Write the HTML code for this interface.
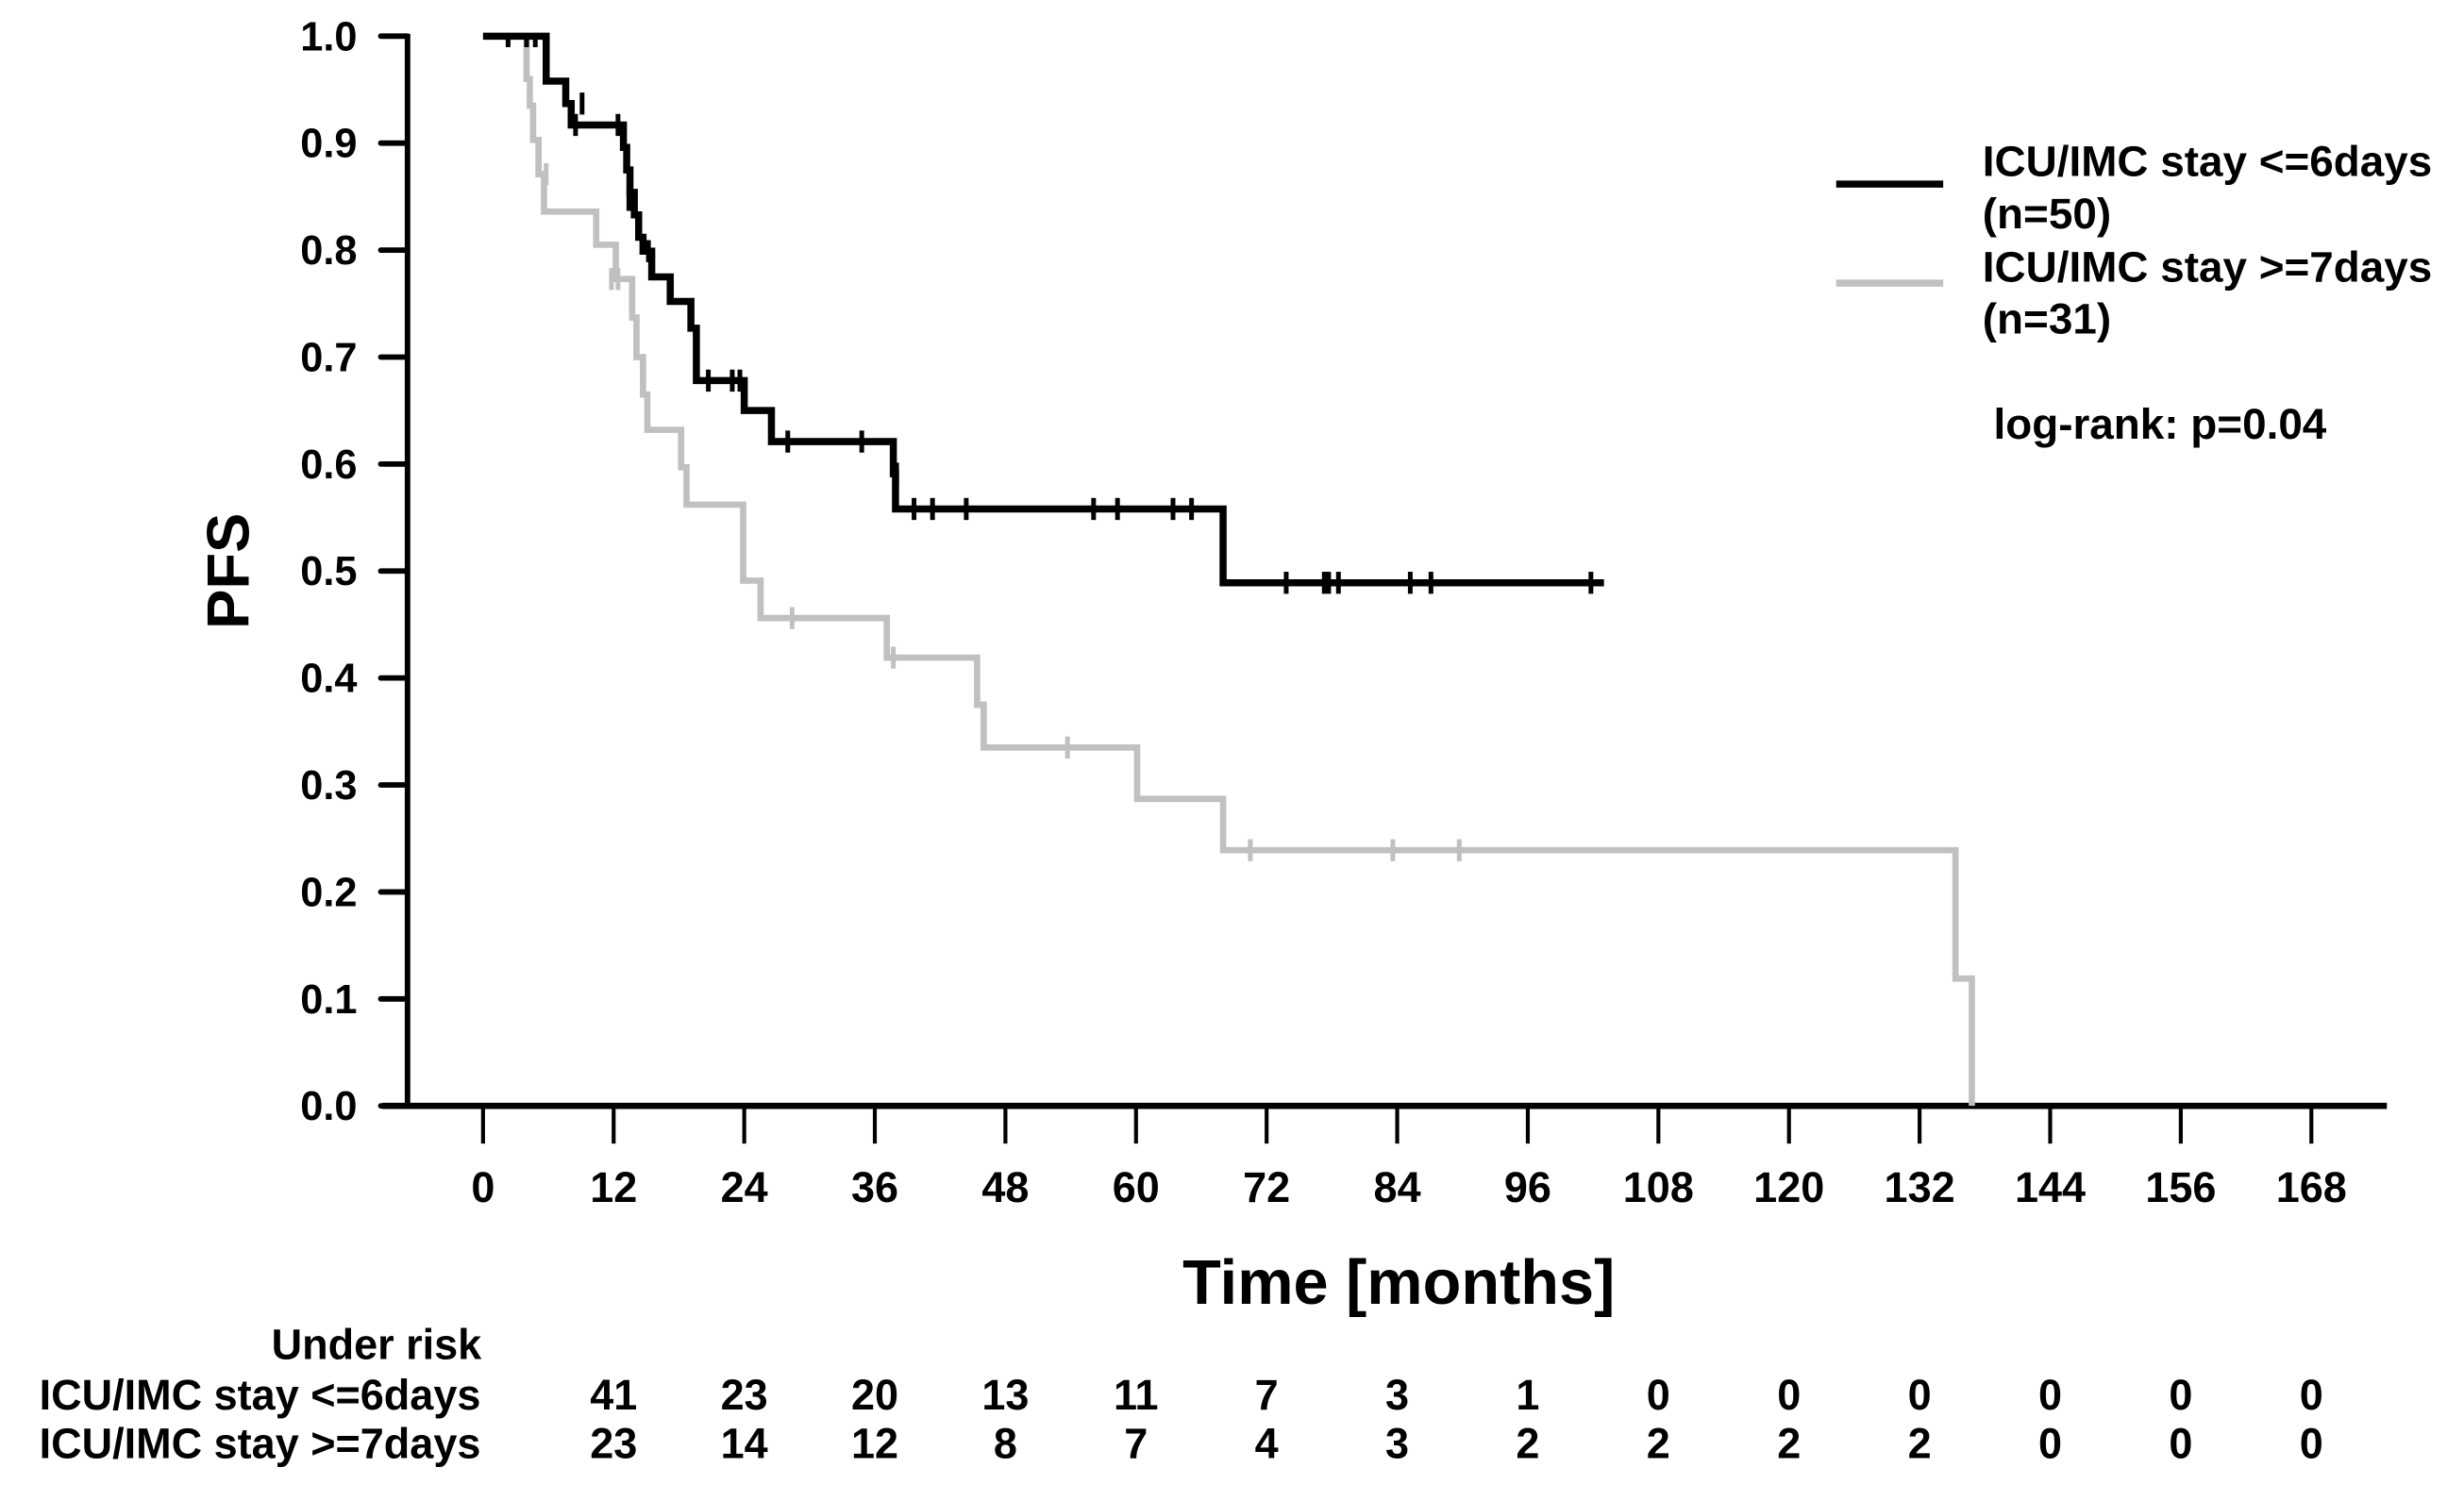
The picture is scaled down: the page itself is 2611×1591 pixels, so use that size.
<!DOCTYPE html>
<html><head><meta charset="utf-8"><style>
html,body{margin:0;padding:0;background:#fff;}
svg{display:block;}
text{font-family:"Liberation Sans",Arial,sans-serif;font-weight:bold;fill:#000;}
</style></head><body>
<svg id="chart" width="2611" height="1591" viewBox="0 0 1566 954.2" preserveAspectRatio="none" xmlns="http://www.w3.org/2000/svg">
<g id="axes"></g>
<g id="curves"></g>
<g>
<line x1="1167" y1="117" x2="1235" y2="117" stroke="#000" stroke-width="4.5"/>
<text x="1260" y="112" font-size="27.5">ICU/IMC stay &lt;=6days</text>
<text x="1260" y="145" font-size="27.5">(n=50)</text>
<line x1="1167" y1="180" x2="1235" y2="180" stroke="#c0c0c0" stroke-width="4.5"/>
<text x="1260" y="179" font-size="27.5">ICU/IMC stay &gt;=7days</text>
<text x="1260" y="212" font-size="27.5">(n=31)</text>
<text x="1267" y="279" font-size="27.5">log-rank: p=0.04</text>
</g>
<text transform="translate(158,363) rotate(-90)" text-anchor="middle" font-size="38">PFS</text>
<text x="889" y="829" text-anchor="middle" font-size="40">Time [months]</text>
<g id="risk">
<text x="306" y="864" text-anchor="end" font-size="27">Under risk</text>
<text x="25" y="896" font-size="27">ICU/IMC stay &lt;=6days</text>
<text x="25" y="927" font-size="27">ICU/IMC stay &gt;=7days</text>
</g>
</svg>
<script>
const xTicks=[0,12,24,36,48,60,72,84,96,108,120,132,144,156,168];
const yTicks=[0,0.1,0.2,0.3,0.4,0.5,0.6,0.7,0.8,0.9,1.0];
const riskTimes=[12,24,36,48,60,72,84,96,108,120,132,144,156,168];
const riskShort=[41,23,20,13,11,7,3,1,0,0,0,0,0,0];
const riskLong=[23,14,12,8,7,4,3,2,2,2,2,0,0,0];
const shortTimes=[5.8,7.6,8.1,12.9,13.2,13.5,13.9,14.3,14.7,15.5,17.2,19.1,19.6,24.0,26.5,37.7,37.9,68.0];
const shortSurv=[0.958,0.937,0.917,0.896,0.875,0.854,0.833,0.812,0.799,0.775,0.752,0.727,0.678,0.650,0.621,0.591,0.558,0.489];
const shortEnd=103;
const shortCensT=[2.3,4.0,4.8,9.1,8.5,12.4,13.4,15.2,20.7,22.9,23.6,28.0,34.8,38.0,39.6,41.3,44.4,56.1,58.3,63.4,65.1,73.8,77.3,77.7,78.6,85.2,87.1,101.8];
const shortCensS=[1,1,1,0.937,0.917,0.917,0.847,0.799,0.678,0.678,0.678,0.621,0.621,0.591,0.558,0.558,0.558,0.558,0.558,0.558,0.558,0.489,0.489,0.489,0.489,0.489,0.489,0.489];
const longTimes=[4.0,4.3,4.6,5.1,5.6,10.4,12.2,13.7,14.1,14.7,15.1,18.2,18.7,23.9,25.5,37.1,45.4,46.0,60.1,68.0,135.3,136.8];
const longSurv=[0.96,0.935,0.903,0.871,0.836,0.805,0.773,0.737,0.70,0.665,0.632,0.597,0.562,0.491,0.456,0.419,0.375,0.335,0.287,0.239,0.119,0.0];
const longEnd=136.8;
const longCensT=[5.8,11.8,12.4,28.4,37.7,53.7,70.5,83.6,89.7];
const longCensS=[0.871,0.773,0.773,0.456,0.419,0.335,0.239,0.239,0.239];

const NS='http://www.w3.org/2000/svg';
const X0=307,PX=83/12,Y0=703,PY=680;
function xs(t){return X0+t*PX;}
function ys(v){return Y0-v*PY;}
function mk(tag,attrs,parent){const e=document.createElementNS(NS,tag);for(const k in attrs)e.setAttribute(k,attrs[k]);parent.appendChild(e);return e;}
const axes=document.getElementById('axes');
let e=mk('line',{x1:259,y1:ys(1)-1.5,x2:259,y2:Y0,stroke:'#000','stroke-width':3.5},axes);


e=mk('line',{x1:243,y1:Y0,x2:1517,y2:Y0,stroke:'#000','stroke-width':4},axes);


yTicks.forEach(v=>{
  const l=mk('line',{x1:242,y1:ys(v),x2:259,y2:ys(v),stroke:'#000','stroke-width':3.5,'stroke-linecap':'round'},axes);
  
  
  const t=mk('text',{x:227,y:ys(v)+9,'text-anchor':'end','font-size':26},axes);
  t.textContent=v.toFixed(1);
  
  
});
xTicks.forEach(v=>{
  const l=mk('line',{x1:xs(v),y1:Y0,x2:xs(v),y2:727,stroke:'#000','stroke-width':2.5},axes);
  
  
  const t=mk('text',{x:xs(v),y:764,'text-anchor':'middle','font-size':27},axes);
  t.textContent=v;
  
  
});
const curves=document.getElementById('curves');
function drawCurve(times,surv,end,ct,cs,color,w,name){
  let d='M'+xs(0)+','+ys(1);
  times.forEach((t,i)=>{d+=' H'+xs(t)+' V'+ys(surv[i]);});
  if(end>times[times.length-1]) d+=' H'+xs(end);
  const p=mk('path',{d:d,fill:'none',stroke:color,'stroke-width':w,'stroke-linejoin':'miter'},curves);
  
  
  ct.forEach((t,i)=>{
    const top=cs[i]>=1?ys(cs[i]):ys(cs[i])-7;
    const c=mk('line',{x1:xs(t),y1:top,x2:xs(t),y2:ys(cs[i])+7,stroke:color,'stroke-width':3},curves);
    
    
  });
}
drawCurve(longTimes,longSurv,longEnd,longCensT,longCensS,'#c0c0c0',4,'long-stay');
drawCurve(shortTimes,shortSurv,shortEnd,shortCensT,shortCensS,'#000',4.5,'short-stay');
const risk=document.getElementById('risk');
riskTimes.forEach((t,i)=>{
  let a=mk('text',{x:xs(t),y:896,'text-anchor':'middle','font-size':27},risk);
  a.textContent=riskShort[i];
  
  
  let b=mk('text',{x:xs(t),y:927,'text-anchor':'middle','font-size':27},risk);
  b.textContent=riskLong[i];
  
  
});
</script>
</body></html>
